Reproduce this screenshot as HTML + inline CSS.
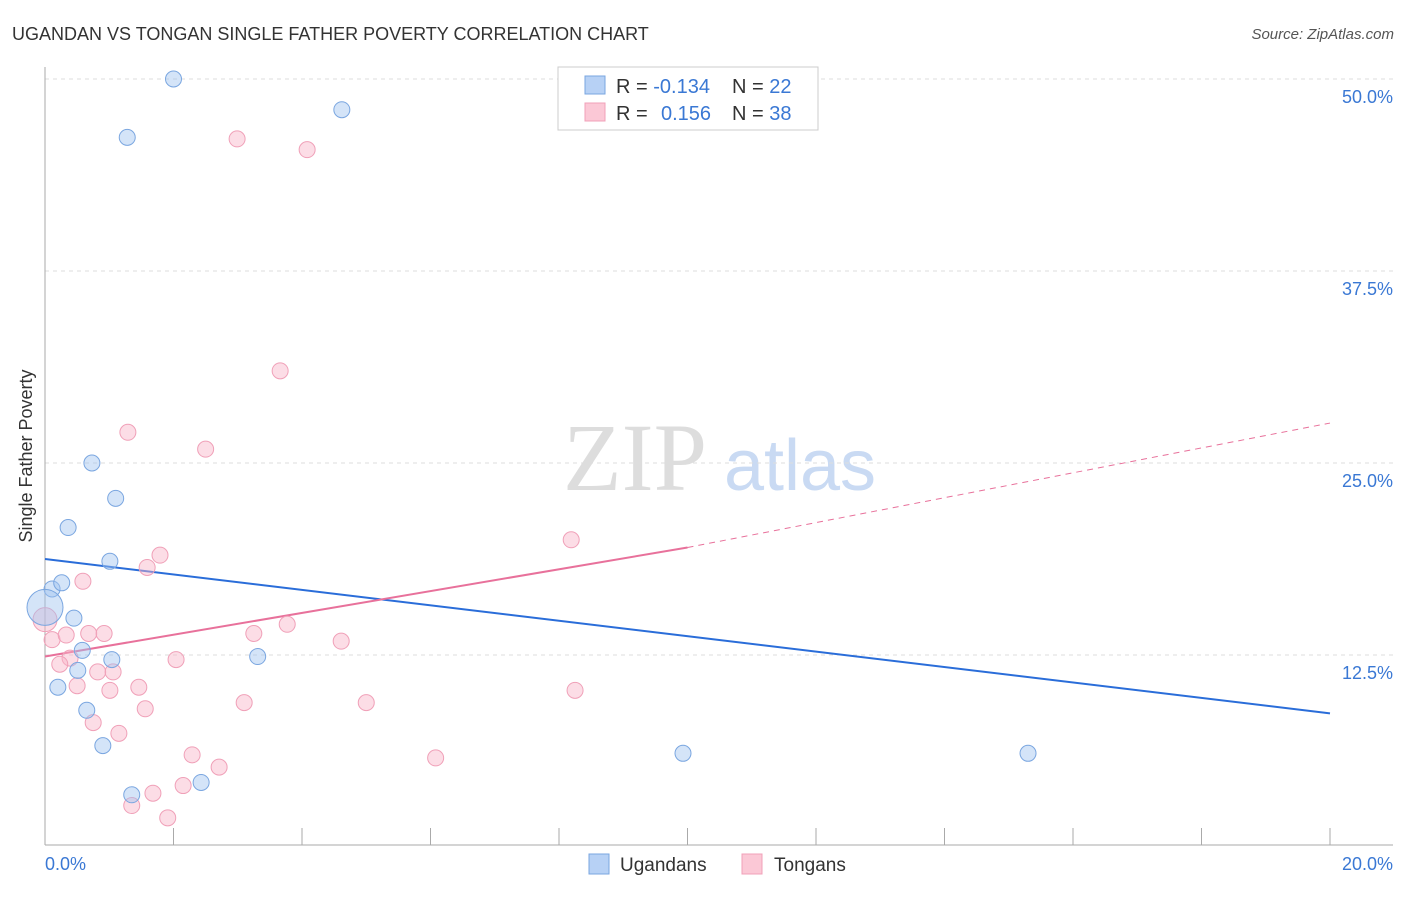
<!DOCTYPE html>
<html><head><meta charset="utf-8"><style>
body{margin:0;background:#fff;font-family:"Liberation Sans",sans-serif;}
</style></head><body>
<svg width="1406" height="892" xmlns="http://www.w3.org/2000/svg" id="svg" font-family="Liberation Sans, sans-serif">
<text x="12" y="40" font-size="18" fill="#333">UGANDAN VS TONGAN SINGLE FATHER POVERTY CORRELATION CHART</text>
<text x="1394" y="39" font-size="15" fill="#555" text-anchor="end" font-style="italic">Source: ZipAtlas.com</text>
<text x="32" y="456" font-size="18" fill="#333" text-anchor="middle" transform="rotate(-90 32 456)">Single Father Poverty</text>
<g><text x="635" y="490" font-size="96" fill="#ddd" text-anchor="middle" font-family="Liberation Serif, serif">ZIP</text><text x="800" y="490" font-size="72" fill="#c9daf3" text-anchor="middle">atlas</text></g>
<g id="grid"></g><g id="axes"></g><g id="lines"></g><g id="pts"></g>
<g>
<rect x="558" y="67" width="260" height="63" fill="#fff" stroke="#ccc"/>
<rect x="585" y="76" width="20" height="18" fill="#b7d1f5" stroke="#7aa6e0"/>
<rect x="585" y="103" width="20" height="18" fill="#fbc8d6" stroke="#f0a0b8"/>
<text x="616" y="93" font-size="20" fill="#333">R = <tspan fill="#3a78d4">-0.134</tspan><tspan x="732">N = </tspan><tspan fill="#3a78d4">22</tspan></text>
<text x="616" y="120" font-size="20" fill="#333">R = <tspan x="661" fill="#3a78d4">0.156</tspan><tspan x="732">N = </tspan><tspan fill="#3a78d4">38</tspan></text>
</g>
<g>
<rect x="589" y="854" width="20" height="20" fill="#b7d1f5" stroke="#7aa6e0"/>
<text x="620" y="871" font-size="19" fill="#333">Ugandans</text>
<rect x="742" y="854" width="20" height="20" fill="#fbc8d6" stroke="#f0a0b8"/>
<text x="774" y="871" font-size="19" fill="#333">Tongans</text>
</g>
</svg>
<script>
const yTicks=[12.5,25,37.5,50];
const yTickLabels=["12.5%","25.0%","37.5%","50.0%"];
const xTicks=[0,2,4,6,8,10,12,14,16,18,20];
const ugX=[2.0,1.28,4.62,0.73,1.1,0.36,1.01,0.11,0.26,0,0.45,0.58,1.04,0.51,0.2,0.65,3.31,0.9,2.43,1.35,9.93,15.3];
const ugY=[50.0,46.2,48.0,25.0,22.7,20.8,18.6,16.8,17.2,15.6,14.9,12.8,12.2,11.5,10.4,8.9,12.4,6.6,4.2,3.4,6.1,6.1];
const toX=[2.99,4.08,3.66,1.29,2.5,8.19,1.79,1.59,0.59,0,0.11,0.33,0.68,0.92,3.25,3.77,4.61,0.39,0.23,2.04,0.82,1.06,0.5,1.46,1.01,8.25,3.1,5.0,1.56,0.75,1.15,2.29,6.08,2.71,2.15,1.68,1.35,1.91];
const toY=[46.1,45.4,31.0,27.0,25.9,20.0,19.0,18.2,17.3,14.8,13.5,13.8,13.9,13.9,13.9,14.5,13.4,12.3,11.9,12.2,11.4,11.4,10.5,10.4,10.2,10.2,9.4,9.4,9.0,8.1,7.4,6.0,5.8,5.2,4.0,3.5,2.7,1.9];
const ugTrend=[18.75,8.7];
const toTrend=[12.4,19.5,27.6];
const sx=v=>45+v*64.25, sy=v=>847-v*15.36;
const NS="http://www.w3.org/2000/svg";
function mk(t,a,p){const e=document.createElementNS(NS,t);for(const k in a)e.setAttribute(k,a[k]);document.getElementById(p).appendChild(e);return e;}
yTicks.forEach((t,i)=>{
 const l=mk('line',{x1:45,x2:1393,y1:sy(t),y2:sy(t),stroke:'#ddd','stroke-dasharray':'4,4'},'grid');
 
 
 const tx=mk('text',{x:1393,y:sy(t)+24,'font-size':18,fill:'#3a78d4','text-anchor':'end'},'grid');
 tx.textContent=yTickLabels[i];
 
 
});
let a=mk('line',{x1:45,x2:45,y1:67,y2:845,stroke:'#aaa'},'axes');

a=mk('line',{x1:45,x2:1393,y1:845,y2:845,stroke:'#aaa'},'axes');

xTicks.forEach(t=>{const l=mk('line',{x1:sx(t),x2:sx(t),y1:828,y2:845,stroke:'#aaa'},'axes');
 
 });
let t0=mk('text',{x:45,y:870,'font-size':18,fill:'#3a78d4'},'axes');t0.textContent='0.0%';

t0=mk('text',{x:1393,y:870,'font-size':18,fill:'#3a78d4','text-anchor':'end'},'axes');t0.textContent='20.0%';

function dot(x,y,r,f,s,n){const c=mk('circle',{cx:sx(x),cy:sy(y),r:r,fill:f,stroke:s,'stroke-width':1},'pts');
 
 }
toX.forEach((x,i)=>dot(x,toY[i],x===0?12:8,'rgba(248,180,200,0.45)','#f0a0b8','tongan-point'));
ugX.forEach((x,i)=>dot(x,ugY[i],x===0?18:8,'rgba(160,195,240,0.45)','#7aa6e0','ugandan-point'));
let ln=mk('line',{x1:sx(0),y1:sy(ugTrend[0]),x2:sx(20),y2:sy(ugTrend[1]),stroke:'#2a6dd9','stroke-width':2},'lines');

ln=mk('line',{x1:sx(0),y1:sy(toTrend[0]),x2:sx(10),y2:sy(toTrend[1]),stroke:'#e8719b','stroke-width':2},'lines');

ln=mk('line',{x1:sx(10),y1:sy(toTrend[1]),x2:sx(20),y2:sy(toTrend[2]),stroke:'#e8719b','stroke-width':1,'stroke-dasharray':'6,5'},'lines');

</script>
</body></html>
